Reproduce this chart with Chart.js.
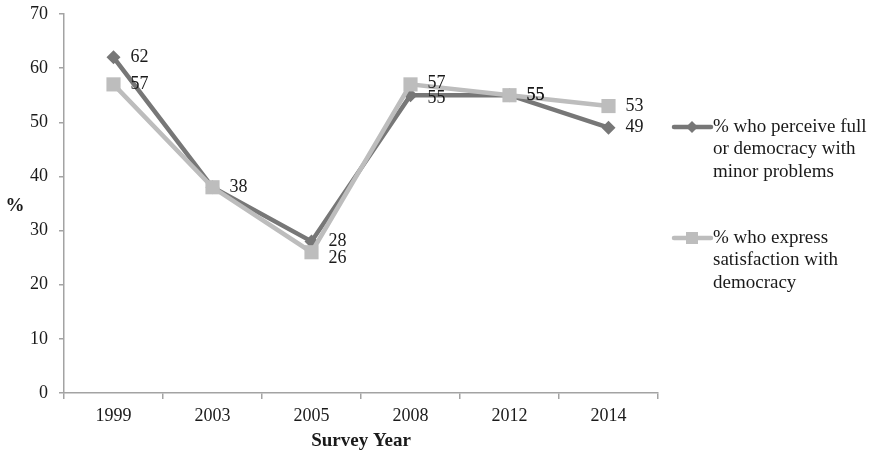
<!DOCTYPE html>
<html>
<head>
<meta charset="utf-8">
<script src="https://cdn.jsdelivr.net/npm/chart.js@4/dist/chart.umd.min.js"></script>
<style>
	html, body { margin: 0; padding: 0; background: #fff; }
	#wrap { width: 869px; height: 455px; position: relative; }
</style>
</head>
<body>
<div id="wrap"><canvas id="chart" width="869" height="455"></canvas></div>
<script>
const years = ['1999', '2003', '2005', '2008', '2012', '2014']
const perceiveDemocracy = [62, 38, 28, 55, 55, 49]
const satisfiedDemocracy = [57, 38, 26, 57, 55, 53]
const yTicks = [0, 10, 20, 30, 40, 50, 60, 70]

const perceiveLabel = ['% who perceive full', 'or democracy with', 'minor problems']
const satisfiedLabel = ['% who express', 'satisfaction with', 'democracy']

const FONT = "'Liberation Serif', 'Times New Roman', serif"
const DARK = '#777777'
const LIGHT = '#bdbdbd'
const AXIS = '#a3a3a3'

// small vertical nudges so overlapping value labels stay readable
const perceiveNudge = [0, 0, 0, 3, 0, 0]
const satisfiedNudge = [0, 0, 6, -1, 0, 0]

const valueLabels = {
	id: 'valueLabels',
	afterDatasetsDraw(chart) {
		const ctx = chart.ctx
		ctx.save()
		ctx.font = `18px ${FONT}`
		ctx.fillStyle = '#1a1a1a'
		ctx.textAlign = 'left'
		ctx.textBaseline = 'middle'
		chart.data.datasets.forEach((ds, i) => {
			const meta = chart.getDatasetMeta(i)
			meta.data.forEach((pt, j) => {
				// 2003 values coincide, print once
				if (i === 1 && j === 1) return
				ctx.fillText(String(ds.data[j]), pt.x + 17, pt.y + ds.nudge[j])
			})
		})
		ctx.restore()
	}
}

const sideLegend = {
	id: 'sideLegend',
	afterDraw(chart) {
		const ctx = chart.ctx
		const items = [
			{ lines: perceiveLabel, color: DARK, style: 'diamond', y: 127 },
			{ lines: satisfiedLabel, color: LIGHT, style: 'square', y: 238 },
		]
		ctx.save()
		items.forEach(it => {
			ctx.strokeStyle = it.color
			ctx.lineWidth = 4.5
			ctx.lineCap = 'round'
			ctx.beginPath()
			ctx.moveTo(674, it.y)
			ctx.lineTo(711, it.y)
			ctx.stroke()
			ctx.fillStyle = it.color
			ctx.beginPath()
			if (it.style === 'diamond') {
				ctx.moveTo(692, it.y - 6)
				ctx.lineTo(698, it.y)
				ctx.lineTo(692, it.y + 6)
				ctx.lineTo(686, it.y)
				ctx.closePath()
			} else {
				ctx.rect(686, it.y - 6, 12, 12)
			}
			ctx.fill()

			ctx.fillStyle = '#1a1a1a'
			ctx.font = `19px ${FONT}`
			ctx.textAlign = 'left'
			ctx.textBaseline = 'middle'
			it.lines.forEach((t, k) => ctx.fillText(t, 713, it.y + k * 22.5))
		})

		// horizontal "%" axis title
		ctx.font = `bold 19px ${FONT}`
		ctx.textAlign = 'center'
		ctx.fillText('%', 15, 206)
		ctx.restore()
	}
}

new Chart(document.getElementById('chart'), {
	type: 'line',
	data: {
		labels: years,
		datasets: [
			{
				label: perceiveLabel.join(' '),
				data: perceiveDemocracy,
				nudge: perceiveNudge,
				borderColor: DARK,
				backgroundColor: DARK,
				borderWidth: 4.5,
				pointStyle: 'rectRot',
				pointRadius: 7,
				pointBorderWidth: 0,
				tension: 0,
				order: 1,
			},
			{
				label: satisfiedLabel.join(' '),
				data: satisfiedDemocracy,
				nudge: satisfiedNudge,
				borderColor: LIGHT,
				backgroundColor: LIGHT,
				borderWidth: 4.5,
				pointStyle: 'rect',
				pointRadius: 10,
				pointBorderWidth: 0,
				tension: 0,
				order: 0,
			},
		],
	},
	options: {
		responsive: false,
		animation: false,
		events: [],
		layout: { padding: { top: 14, right: 211, left: 0, bottom: 0 } },
		plugins: {
			legend: { display: false },
			tooltip: { enabled: false },
		},
		scales: {
			x: {
				offset: true,
				grid: {
					offset: true,
					drawOnChartArea: false,
					color: AXIS,
					tickLength: 6,
					lineWidth: 1.5,
				},
				border: { color: AXIS, width: 1.5 },
				ticks: {
					color: '#1a1a1a',
					font: { family: FONT, size: 18 },
					padding: 6,
					maxRotation: 0,
				},
				title: {
					display: true,
					text: 'Survey Year',
					color: '#1a1a1a',
					font: { family: FONT, size: 19, weight: 'bold' },
					padding: { top: 4, bottom: 3 },
				},
				afterFit: s => { s.height = 62 },
			},
			y: {
				min: 0,
				max: 70,
				afterBuildTicks: s => { s.ticks = yTicks.map(v => ({ value: v })) },
				grid: {
					drawOnChartArea: false,
					color: AXIS,
					tickLength: 5,
					lineWidth: 1.5,
				},
				border: { color: AXIS, width: 1.5 },
				ticks: {
					color: '#1a1a1a',
					font: { family: FONT, size: 18 },
					padding: 11,
				},
				afterFit: s => {
					s.width = 64
					s.paddingTop = 0
					s.paddingBottom = 0
				},
			},
		},
	},
	plugins: [valueLabels, sideLegend],
})
</script>
</body>
</html>
